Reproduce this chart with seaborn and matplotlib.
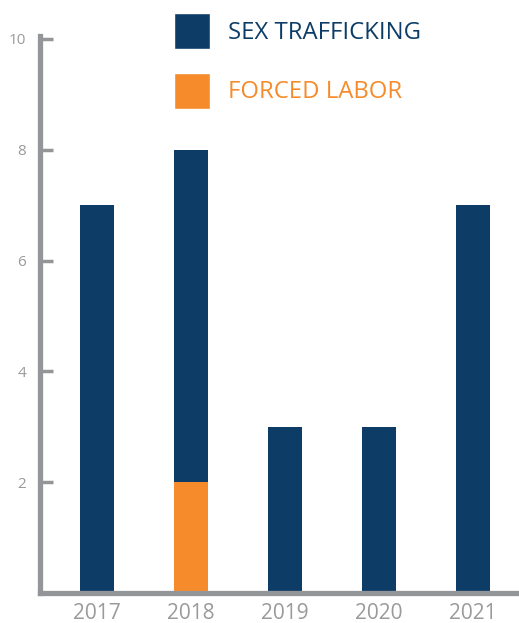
import numpy as np
import pandas as pd
import matplotlib
matplotlib.use("Agg")
import matplotlib.pyplot as plt
import seaborn as sns
from matplotlib.patches import Patch

years = ["2017", "2018", "2019", "2020", "2021"]
sex_trafficking = [7, 6, 3, 3, 7]
forced_labor = [0, 2, 0, 0, 0]

BLUE = "#0d3d66"
ORANGE = "#f68b2b"
GRAY = "#939598"
TXT = "#9a9a9a"

sns.set_style("white")
plt.rcParams["font.family"] = ["Open Sans", "DejaVu Sans"]

df = pd.DataFrame({"year": years,
                   "sex": sex_trafficking,
                   "forced": forced_labor})
df["total"] = df["sex"] + df["forced"]

fig = plt.figure(figsize=(5.19, 6.23), dpi=100)
ax = fig.add_axes([40 / 519, 30 / 623, 479 / 519, 554 / 623])

# stacked: total in blue, forced labor drawn over the bottom part
sns.barplot(data=df, x="year", y="total", color=BLUE, width=0.36,
            saturation=1, linewidth=0, ax=ax)
sns.barplot(data=df, x="year", y="forced", color=ORANGE, width=0.36,
            saturation=1, linewidth=0, ax=ax)

ax.set_xlim(-0.606, 4.49)
ax.set_ylim(0, 10)
ax.set_yticks([2, 4, 6, 8, 10])
ax.set_xlabel("")
ax.set_ylabel("")

sns.despine(ax=ax, top=True, right=True)
for side in ["left", "bottom"]:
    ax.spines[side].set_color(GRAY)
    ax.spines[side].set_linewidth(3.8)
ax.spines["left"].set_bounds(0, 10.05)

ax.tick_params(axis="y", direction="in", length=9, width=2.5, color=GRAY,
               labelsize=11, labelcolor=TXT, pad=10, left=True)
ax.tick_params(axis="x", length=0, labelsize=15, labelcolor=TXT, pad=7)

handles = [Patch(facecolor=BLUE), Patch(facecolor=ORANGE)]
fig.legend(handles, ["SEX TRAFFICKING", "FORCED LABOR"],
           loc="upper left", bbox_to_anchor=(174 / 519, 1 - 13 / 623),
           frameon=False, fontsize=17.2, labelcolor=[BLUE, ORANGE],
           handlelength=1.52, handleheight=1.94, handletextpad=0.75,
           labelspacing=1.0, borderpad=0, borderaxespad=0)

fig.savefig("out.png", dpi=100)
